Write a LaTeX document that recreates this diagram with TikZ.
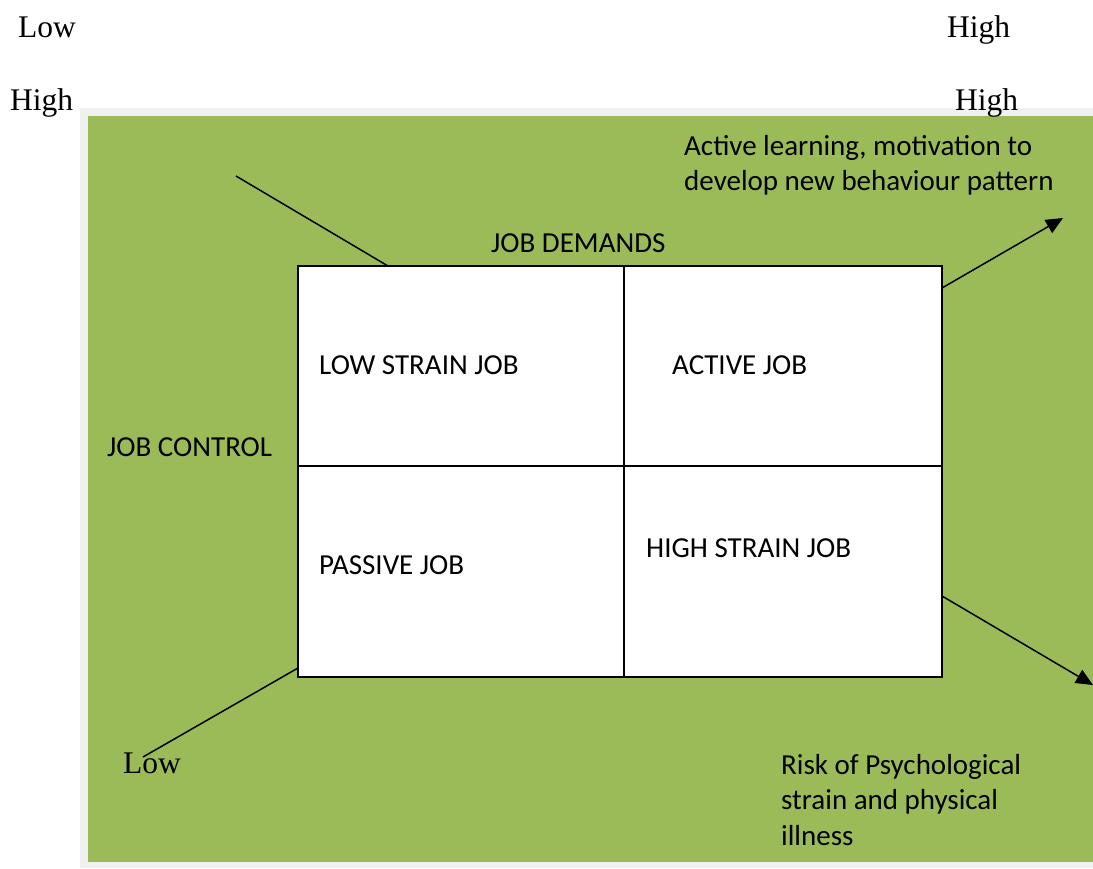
\documentclass[tikz,border=0pt]{standalone}
\usepackage{fontspec}
\setmainfont{Liberation Serif}
\newfontfamily\calfont{Carlito}
\usetikzlibrary{arrows.meta}
\definecolor{bggreen}{HTML}{9BBB59}
\definecolor{bggray}{HTML}{F0F0F0}
\tikzset{
  cell/.style={draw=black,line width=1.8pt,fill=white,minimum width=#1,inner sep=0pt},
  tlab/.style={font=\fontsize{31.5}{36}\selectfont,inner sep=0pt,anchor=base west},
  clab/.style={font=\calfont\fontsize{29}{35.5}\selectfont,inner sep=0pt,anchor=base west},
  mlab/.style={clab,align=left},
  conn/.style={draw=black,line width=1.5pt},
  arr/.style={conn,-{Triangle[length=17pt,width=15pt]}}
}
\begin{document}
\begin{tikzpicture}[x=1pt,y=-1pt]
\useasboundingbox (0,0) rectangle (1093,868);
% background panels
\fill[bggray] (80,108) rectangle (1093,868);
\fill[bggreen] (88,116) rectangle (1093,862);
% cells
\node[cell=326pt,minimum height=200pt] (ls) at (461,366) {};
\node[cell=318pt,minimum height=200pt] (ac) at (783,366) {};
\node[cell=326pt,minimum height=211pt] (pa) at (461,571.5) {};
\node[cell=318pt,minimum height=211pt] (hs) at (783,571.5) {};
% cell labels
\node[clab] (lsl) at (319,374) {LOW STRAIN JOB};
\node[clab] (acl) at (672,374) {ACTIVE JOB};
\node[clab] (pal) at (319,574) {PASSIVE JOB};
\node[clab] (hsl) at (646,557) {HIGH STRAIN JOB};
% axis labels
\node[clab] (jd) at (491,252) {JOB DEMANDS};
\node[clab] (jc) at (107,456) {JOB CONTROL};
% Times labels
\node[tlab] (low1) at (18,37) {Low};
\node[tlab] (high1) at (947,37) {High};
\node[tlab] (high2) at (10,110) {High};
\node[tlab] (high3) at (955,110) {High};
\node[tlab] (low2) at (123,773) {Low};
% outcome texts (base anchor = last line)
\node[mlab] (out1) at (684,190.5) {Active learning, motivation to\\develop new behaviour pattern};
\node[mlab] (out2) at (781,845) {Risk of Psychological\\strain and physical\\illness};
% connector coordinates
\coordinate (tlS) at (236,176);
\coordinate (tlE) at (388,266);
\coordinate (blS) at (298,668);
\coordinate (blE) at (143,757);
\coordinate (trS) at (942,288);
\coordinate (trE) at (1063,218);
\coordinate (brS) at (942,596);
\coordinate (brE) at (1093,685);
% connectors
\draw[conn] (tlS) -- (tlE);
\draw[conn] (blS) -- (blE);
\draw[arr] (trS) -- (trE);
\draw[arr] (brS) -- (brE);
\end{tikzpicture}
\end{document}
